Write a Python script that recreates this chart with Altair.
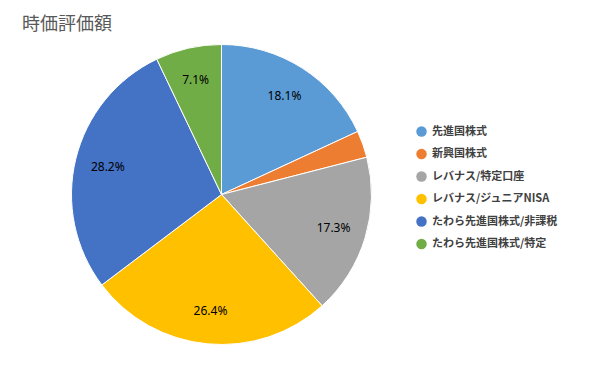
import altair as alt
import pandas as pd

categories = ["先進国株式", "新興国株式", "レバナス/特定口座", "レバナス/ジュニアNISA",
              "たわら先進国株式/非課税", "たわら先進国株式/特定"]
values = [18.1, 2.9, 17.3, 26.4, 28.2, 7.1]
labels = ["18.1%", "", "17.3%", "26.4%", "28.2%", "7.1%"]
colors = ["#5B9BD5", "#ED7D31", "#A5A5A5", "#FFC000", "#4472C4", "#70AD47"]

df = pd.DataFrame({"cat": categories, "val": values, "label": labels,
                   "order": list(range(len(categories)))})

cx, cy = 213.5, 186.5

base = alt.Chart(df).encode(
    theta=alt.Theta("val:Q", stack=True),
    order=alt.Order("order:Q"),
)

pie = base.mark_arc(outerRadius=150, stroke="white", strokeWidth=1).encode(
    x=alt.value(cx), y=alt.value(cy),
    color=alt.Color("cat:N", sort=categories,
                    scale=alt.Scale(domain=categories, range=colors),
                    legend=alt.Legend(title=None, orient="none", legendX=408, legendY=118,
                                      symbolType="circle", symbolSize=110,
                                      labelFontSize=11, labelFontWeight="bold",
                                      labelColor="#404040", labelFont="Noto Sans CJK JP",
                                      rowPadding=10.5, padding=0, symbolStrokeWidth=0,
                                      labelOffset=5)),
)

text = base.mark_text(radius=117, fontSize=12, font="Noto Sans", color="#000000").encode(
    x=alt.value(cx), y=alt.value(cy),
    text="label:N",
)

chart = (pie + text).properties(
    width=573, height=350,
    autosize=alt.AutoSizeParams(type="none"),
    padding=0,
    title=alt.TitleParams("時価評価額", anchor="start", fontSize=18, color="#595959",
                          font="Noto Sans CJK JP", fontWeight="normal",
                          offset=0, dx=14, dy=40, baseline="alphabetic"),
).configure_view(stroke=None)

chart.save("out.html", embed_options={"renderer": "svg", "actions": False})
